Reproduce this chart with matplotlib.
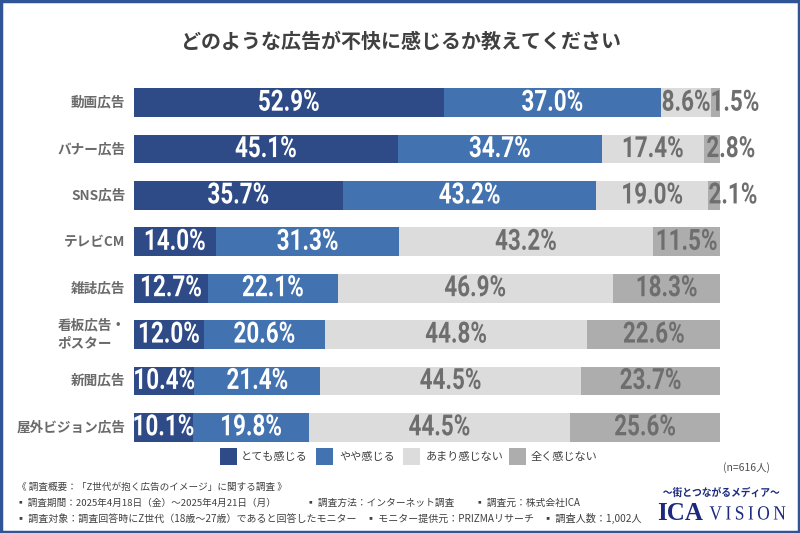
import matplotlib
matplotlib.use('Agg')
import matplotlib.pyplot as plt
import matplotlib.patheffects as pe
from matplotlib.patches import Rectangle
from matplotlib.transforms import Affine2D

JP = ['Noto Sans CJK JP', 'DejaVu Sans']
plt.rcParams['font.family'] = JP

categories = ['動画広告', 'バナー広告', 'SNS広告', 'テレビCM', '雑誌広告', '看板広告・\nポスター', '新聞広告', '屋外ビジョン広告']
very = [52.9, 45.1, 35.7, 14.0, 12.7, 12.0, 10.4, 10.1]
somewhat = [37.0, 34.7, 43.2, 31.3, 22.1, 20.6, 21.4, 19.8]
not_much = [8.6, 17.4, 19.0, 43.2, 46.9, 44.8, 44.5, 44.5]
not_at_all = [1.5, 2.8, 2.1, 11.5, 18.3, 22.6, 23.7, 25.6]
series_names = ['とても感じる', 'やや感じる', 'あまり感じない', '全く感じない']
colors = ['#2f4b87', '#4272b0', '#dcdcdc', '#adadad']
text_colors = ['white', 'white', '#6e6e6e', '#6e6e6e']


class Squeeze(pe.AbstractPathEffect):
    # the reference numbers are in a condensed face, none is installed
    def __init__(self, sx):
        super().__init__()
        self.sx = sx

    def draw_path(self, renderer, gc, tpath, affine, rgbFace=None):
        box = tpath.get_extents(affine)
        cx = (box.x0 + box.x1) / 2
        squeeze = Affine2D().translate(-cx, 0).scale(self.sx, 1).translate(cx, 0)
        renderer.draw_path(gc, tpath, affine + squeeze, rgbFace)


W, H = 800, 533
fig = plt.figure(figsize=(W / 100, H / 100), dpi=100)

# whole figure in pixel coords for the text and the frame
bg = fig.add_axes([0, 0, 1, 1])
bg.set_xlim(0, W)
bg.set_ylim(H, 0)
bg.axis('off')
bg.add_patch(Rectangle((1, 1), W - 2, H - 2, fill=False, ec='#2f5597', lw=2.5))

bg.text(401, 41, 'どのような広告が不快に感じるか教えてください', ha='center', va='center',
        fontsize=14.4, fontweight='bold', color='#404040')

# chart
left, right, top, bottom = 133.5, 720, 79.5, 450.5
ax = fig.add_axes([left / W, 1 - bottom / H, (right - left) / W, (bottom - top) / H])
ax.patch.set_alpha(0)
ax.set_xlim(0, 100)
ax.set_ylim(len(categories) - 0.5, -0.5)
ax.axis('off')

ypos = list(range(len(categories)))
lefts = [0] * len(categories)
for name, vals, c, tc in zip(series_names, [very, somewhat, not_much, not_at_all], colors, text_colors):
    ax.barh(ypos, vals, left=lefts, height=0.62, color=c, label=name)
    for i, v in enumerate(vals):
        x = lefts[i] + v / 2
        # small segments have the label pushed out to the right
        dx = 19 if v < 3 else 0
        ax.annotate(f'{v:.1f}%', (x, i), xytext=(dx, 0), textcoords='offset pixels',
                    ha='center', va='center', fontsize=21, fontweight='bold',
                    color=tc, family=['Roboto', 'DejaVu Sans'], path_effects=[Squeeze(0.77)])
    lefts = [a + b for a, b in zip(lefts, vals)]

for i, cat in enumerate(categories):
    ax.annotate(cat, (0, i), xytext=(-8, 0), textcoords='offset pixels', ha='right', va='center',
                multialignment='left', fontsize=9.8, fontweight='bold', color='#6a6a6a', linespacing=1.35)

# legend
leg_x = [220, 316, 403, 509]
leg_tx = [241, 339, 426, 531]
for name, c, lx, tx in zip(series_names, colors, leg_x, leg_tx):
    bg.add_patch(Rectangle((lx, 448), 17, 17, color=c, lw=0))
    bg.text(tx, 457, name, ha='left', va='center', fontsize=8, color='#404040')

bg.text(747, 467.5, '(n=616人)', ha='center', va='center', fontsize=7.5, color='#505050')

# survey notes
note_color = '#404040'
bg.text(17, 487.5, '《 調査概要：「Z世代が抱く広告のイメージ」に関する調査 》', va='center', fontsize=6.9, color=note_color)
bg.text(16, 503, '▪ 調査期間：2025年4月18日（金）～2025年4月21日（月）', va='center', fontsize=6.9, color=note_color)
bg.text(306, 503, '▪ 調査方法：インターネット調査', va='center', fontsize=7, color=note_color)
bg.text(475, 503, '▪ 調査元：株式会社ICA', va='center', fontsize=7, color=note_color)
bg.text(16, 518.5, '▪ 調査対象：調査回答時にZ世代（18歳～27歳）であると回答したモニター', va='center', fontsize=7.2, color=note_color)
bg.text(366, 518.5, '▪ モニター提供元：PRIZMAリサーチ', va='center', fontsize=7.2, color=note_color)
bg.text(543, 518.5, '▪ 調査人数：1,002人', va='center', fontsize=7.3, color=note_color)

# logo
navy = '#1c2a7d'
bg.text(721.5, 493, '～街とつながるメディア～', ha='center', va='center', fontsize=7.8, fontweight='bold', color=navy,
        path_effects=[Squeeze(0.9)])
bg.text(657, 514, 'ICA', ha='left', va='center', fontsize=18, fontweight='bold', family=['Liberation Serif'], color=navy)
bg.text(747.5, 515, 'V\u2009I\u2009S\u2009I\u2009O\u2009N', ha='center', va='center', fontsize=14.5, family=['Liberation Serif'],
        color=navy, path_effects=[Squeeze(0.865)])

fig.savefig('out.png', dpi=100)
